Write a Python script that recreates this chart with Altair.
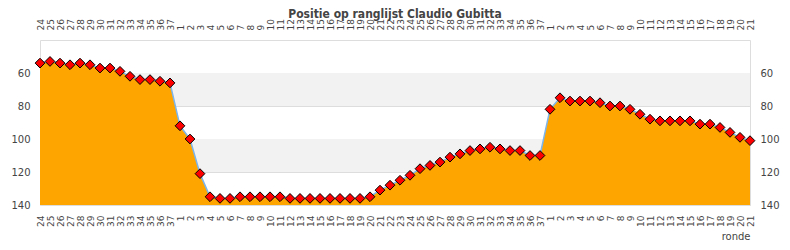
import altair as alt
import pandas as pd

rounds = ["24", "25", "26", "27", "28", "29", "30", "31", "32", "33", "34", "35", "36", "37",
          "1", "2", "3", "4", "5", "6", "7", "8", "9", "10", "11", "12", "13", "14", "15", "16",
          "17", "18", "19", "20", "21", "22", "23", "24", "25", "26", "27", "28", "29", "30",
          "31", "32", "33", "34", "35", "36", "37",
          "1", "2", "3", "4", "5", "6", "7", "8", "9", "10", "11", "12", "13", "14", "15", "16",
          "17", "18", "19", "20", "21"]

positions = [54, 53, 54, 55, 54, 55, 57, 57, 59, 62, 64, 64, 65, 66,
             92, 100, 121, 135, 136, 136, 135, 135, 135, 135, 135, 136, 136, 136, 136, 136,
             136, 136, 136, 135, 131, 128, 125, 122, 118, 116, 114, 111, 109, 107,
             106, 105, 106, 107, 107, 110, 110,
             82, 75, 77, 77, 77, 78, 80, 80, 82, 85, 88, 89, 89, 89, 89, 91,
             91, 93, 96, 99, 101]

y_ticks = [60, 80, 100, 120, 140]
band_lo = [60, 100]
band_hi = [80, 120]

idx = list(range(len(rounds)))
df = pd.DataFrame({"i": idx, "ronde": rounds, "positie": positions})
bands = pd.DataFrame({"y": band_lo, "y2": band_hi})

label_expr = "[" + ",".join("'%s'" % r for r in rounds) + "][datum.value]"

xscale = alt.Scale(domain=[0, len(rounds) - 1], nice=False, zero=False)
yscale = alt.Scale(domain=[40, 140], reverse=True, nice=False, zero=False)

FONT = "DejaVu Sans"
LAB = "#444444"

def x_axis(orient, title=None):
    kw = dict(orient=orient, values=idx, labelExpr=label_expr, labelAngle=270,
              labelFontSize=9, labelFont=FONT, labelColor=LAB, ticks=False,
              labelPadding=10, domain=False, grid=False, labelOverlap=False)
    if title:
        kw.update(title=title, titleAnchor="end", titleAlign="right", titleFontSize=10,
                  titleFont=FONT, titleFontWeight="normal", titleColor=LAB, titlePadding=5)
    else:
        kw.update(title=None)
    return alt.Axis(**kw)

def y_axis(orient, grid):
    return alt.Axis(orient=orient, values=y_ticks, grid=grid, gridColor="#dddddd",
                    gridWidth=1, domain=False, ticks=False, labelPadding=10,
                    labelFontSize=10, labelFont=FONT, labelColor=LAB, title=None)

band_layer = alt.Chart(bands).mark_rect(color="#f2f2f2").encode(
    x=alt.datum(0, scale=xscale, axis=None),
    x2=alt.datum(len(rounds) - 1),
    y=alt.Y("y:Q", scale=yscale, axis=None),
    y2="y2:Q",
)

area = alt.Chart(df).mark_area(color="#FFA500", opacity=1).encode(
    x=alt.X("i:Q", scale=xscale, axis=x_axis("bottom", "ronde")),
    y=alt.Y("positie:Q", scale=yscale, axis=y_axis("left", True)),
    y2=alt.datum(140),
)

line = alt.Chart(df).mark_line(color="#7cb5ec", strokeWidth=1.5).encode(
    x=alt.X("i:Q", scale=xscale, axis=None),
    y=alt.Y("positie:Q", scale=yscale, axis=None),
)

points = alt.Chart(df).mark_point(shape="diamond", filled=True, fill="#ff0000",
                                  stroke="#000000", strokeWidth=1, size=95,
                                  opacity=1).encode(
    x=alt.X("i:Q", scale=xscale, axis=x_axis("top")),
    y=alt.Y("positie:Q", scale=yscale, axis=y_axis("right", False)),
)

chart = alt.layer(band_layer, area, line, points).properties(
    width=710,
    height=165,
    autosize=alt.AutoSizeParams(type="none"),
    padding={"left": 40, "top": 40, "right": 40, "bottom": 45},
    title=alt.TitleParams(text="Positie op ranglijst Claudio Gubitta", fontSize=12,
                          font="DejaVu Sans Condensed", fontWeight="bold",
                          color="#444444", anchor="middle", offset=-2),
).configure_view(stroke="#cccccc", strokeWidth=1).configure(background="white")

chart.save("out.html", embed_options={"renderer": "svg", "actions": False})
